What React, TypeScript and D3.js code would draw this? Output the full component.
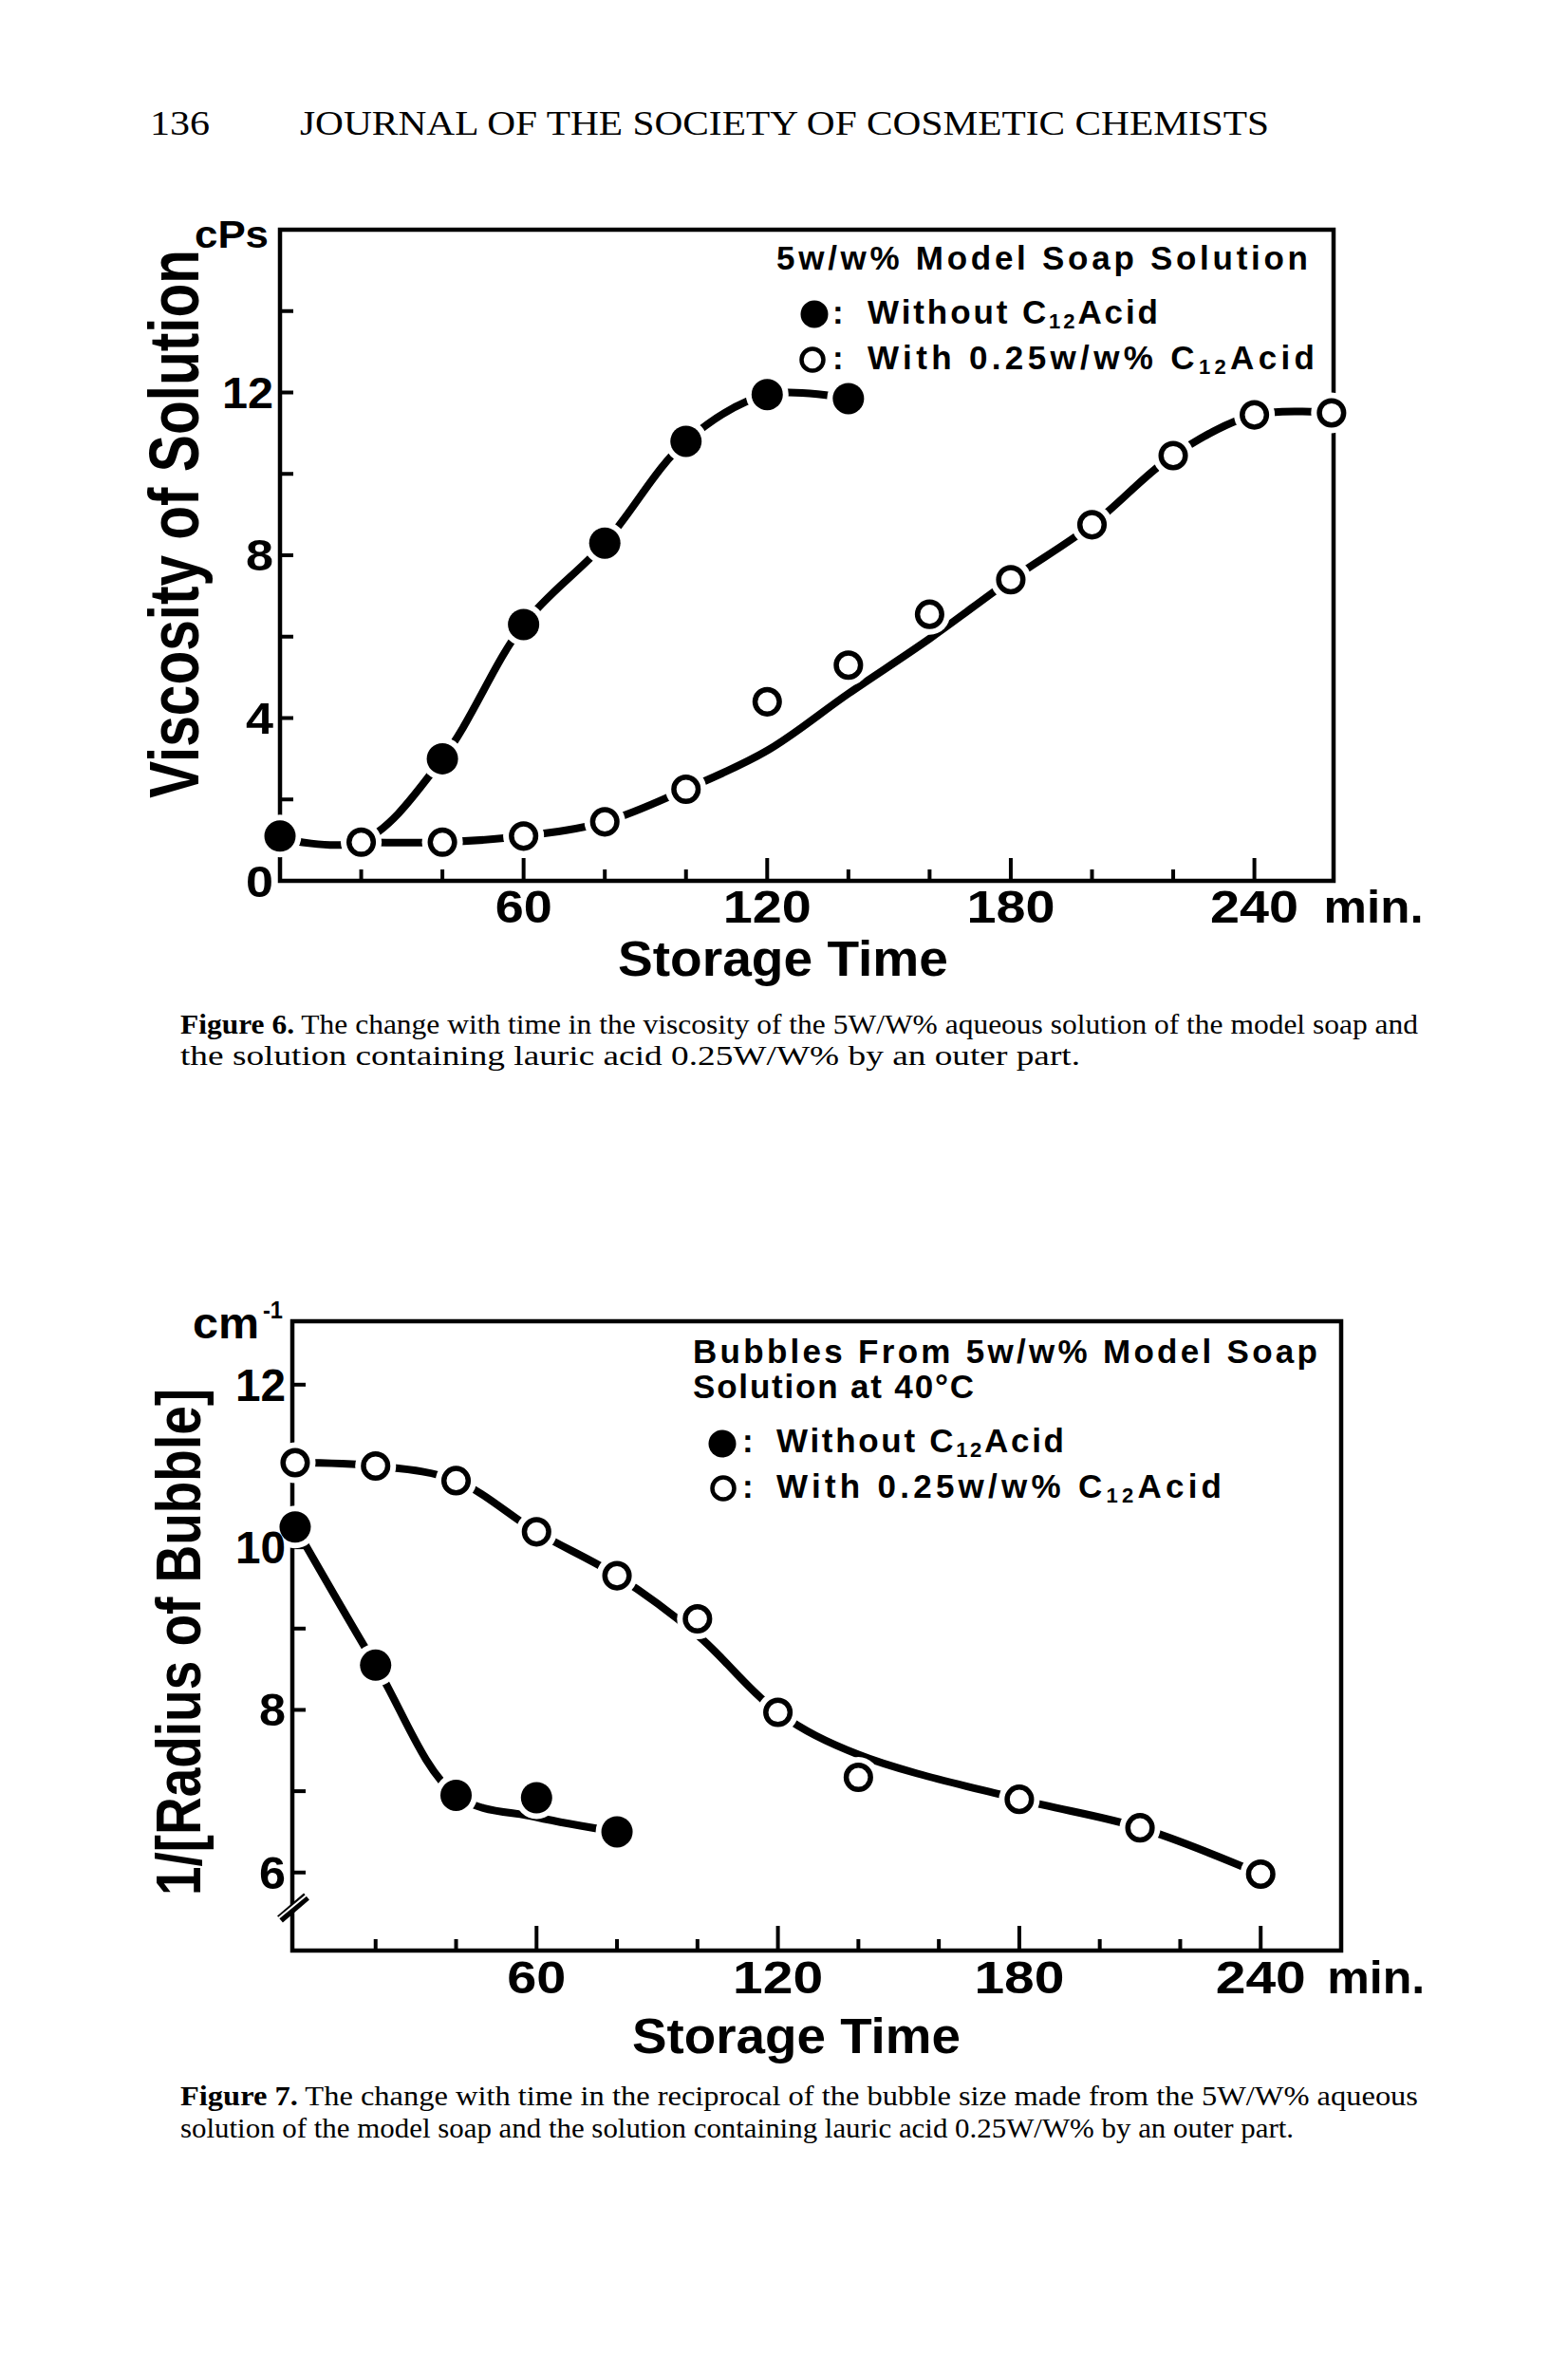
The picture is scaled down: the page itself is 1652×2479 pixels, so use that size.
import React from 'react';
import * as d3 from 'd3';

// ---------- Figure 6 data (Storage Time min, Viscosity cPs) ----------
const fig6FilledTime = [0, 40, 60, 80, 100, 120, 140];
const fig6FilledVisc = [1.1, 3.0, 6.3, 8.3, 10.8, 11.95, 11.85];
const fig6FilledFitTime = [0, 20, 40, 60, 80, 100, 120, 140];
const fig6FilledFitVisc = [1.05, 0.97, 3.0, 6.3, 8.3, 10.8, 11.95, 11.85];

const fig6OpenTime = [20, 40, 60, 80, 100, 120, 140, 160, 180, 200, 220, 240, 259];
const fig6OpenVisc = [0.95, 0.95, 1.1, 1.45, 2.25, 4.4, 5.3, 6.55, 7.4, 8.75, 10.45, 11.45, 11.5];
const fig6OpenFitTime = [20, 40, 60, 80, 100, 120, 140, 160, 180, 200, 220, 240, 259];
const fig6OpenFitVisc = [0.95, 0.95, 1.1, 1.45, 2.25, 3.2, 4.6, 5.95, 7.4, 8.75, 10.45, 11.45, 11.5];

const fig6YTicks = [2, 4, 6, 8, 10, 12, 14];
const fig6YLabels = [0, 4, 8, 12];

// ---------- Figure 7 data (Storage Time min, 1/Radius cm^-1) ----------
const fig7FilledTime = [0, 20, 40, 60, 80];
const fig7FilledRecip = [10.25, 8.55, 6.95, 6.92, 6.5];
const fig7FilledFitTime = [0, 20, 40, 60, 80];
const fig7FilledFitRecip = [10.25, 8.55, 6.95, 6.68, 6.5];

const fig7OpenTime = [0, 20, 40, 60, 80, 100, 120, 140, 180, 210, 240];
const fig7OpenRecip = [11.04, 11.0, 10.82, 10.19, 9.65, 9.12, 7.97, 7.17, 6.9, 6.55, 5.98];
const fig7OpenFitTime = [0, 20, 40, 60, 80, 100, 120, 140, 180, 210, 240];
const fig7OpenFitRecip = [11.04, 11.0, 10.82, 10.19, 9.65, 8.92, 7.97, 7.45, 6.9, 6.55, 5.98];

const fig7YTicks = [6, 7, 8, 9, 10, 11, 12];
const fig7YLabels = [6, 8, 10, 12];

const xMinorTicks = [20, 40, 80, 100, 140, 160, 200, 220];
const xMajorTicks = [60, 120, 180, 240];

const SANS = "'Liberation Sans', Arial, Helvetica, sans-serif";
const SERIF = "'Liberation Serif', 'DejaVu Serif', serif";

type TP = {
  x: number; y: number; size: number; len?: number; anchor?: string; adjust?: string;
  weight?: string | number; family?: string; rotate?: number; children: React.ReactNode;
};
const T = ({ x, y, size, len, anchor = 'start', adjust = 'spacingAndGlyphs', weight = 'bold', family = SANS, rotate, children }: TP) => (
  <text
    x={x}
    y={y}
    fontSize={size}
    fontFamily={family}
    fontWeight={weight}
    textAnchor={anchor}
    textLength={len}
    lengthAdjust={len ? adjust : undefined}
    transform={rotate !== undefined ? `rotate(${rotate},${x},${y})` : undefined}
    fill="#000"
  >
    {children}
  </text>
);

const zip = (a: number[], b: number[]) => a.map((v, i) => [v, b[i]] as [number, number]);

type Series = {
  pts: [number, number][];
  fit: [number, number][];
  filled: boolean;
};

const R_FILLED = 16.5;
const R_OPEN = 12.8;
const OPEN_SW = 5.5;

function Plot({
  x, y, series, left, right, top, bottom, yTicks, majorLen, minorLen,
}: {
  x: d3.ScaleLinear<number, number>; y: d3.ScaleLinear<number, number>; series: Series[];
  left: number; right: number; top: number; bottom: number; yTicks: number[];
  majorLen: number; minorLen: number;
}) {
  const line = d3.line<[number, number]>()
    .x(d => x(d[0]))
    .y(d => y(d[1]))
    .curve(d3.curveCatmullRom.alpha(0.5));
  return (
    <g>
      <rect x={left} y={top} width={right - left} height={bottom - top} fill="none" stroke="#000" strokeWidth={4.5} />
      {yTicks.map(t => (
        <line key={'yt' + t} x1={left} x2={left + 14} y1={y(t)} y2={y(t)} stroke="#000" strokeWidth={4} />
      ))}
      {xMinorTicks.map(t => (
        <line key={'xm' + t} x1={x(t)} x2={x(t)} y1={bottom} y2={bottom - minorLen} stroke="#000" strokeWidth={4} />
      ))}
      {xMajorTicks.map(t => (
        <line key={'xM' + t} x1={x(t)} x2={x(t)} y1={bottom} y2={bottom - majorLen} stroke="#000" strokeWidth={4} />
      ))}
      {series.map((s, i) => (
        <path key={'c' + i} d={line(s.fit) || ''} fill="none" stroke="#000" strokeWidth={8} strokeLinecap="round" />
      ))}
      {series.map((s, i) =>
        s.pts.map((p, j) => (
          <circle key={'h' + i + '-' + j} cx={x(p[0])} cy={y(p[1])}
            r={(s.filled ? R_FILLED : R_OPEN + OPEN_SW / 2) + 6} fill="#fff" />
        ))
      )}
      {series.map((s, i) =>
        s.pts.map((p, j) => (
          <circle
            key={'m' + i + '-' + j}
            cx={x(p[0])}
            cy={y(p[1])}
            r={s.filled ? R_FILLED : R_OPEN}
            fill={s.filled ? '#000' : '#fff'}
            stroke="#000"
            strokeWidth={s.filled ? 0 : OPEN_SW}
          />
        ))
      )}
    </g>
  );
}

const Acid = ({ x, y, len, prefix }: { x: number; y: number; len: number; prefix: string }) => (
  <text x={x} y={y} fontSize={35} fontFamily={SANS} fontWeight="bold" textLength={len} lengthAdjust="spacing">
    {prefix}C<tspan fontSize={22} dy={5}>12</tspan><tspan dy={-5}>Acid</tspan>
  </text>
);

export default function App() {
  const f6 = { left: 295, right: 1405, top: 242, bottom: 928 };
  const x6 = d3.scaleLinear().domain([0, 259.5]).range([f6.left, f6.right]);
  const y6 = d3.scaleLinear().domain([0, 16]).range([f6.bottom, f6.top]);

  const f7 = { left: 308, right: 1413, top: 1392, bottom: 2055 };
  const x7 = d3.scaleLinear().domain([-0.7, 260]).range([f7.left, f7.right]);
  const y7 = d3.scaleLinear().domain([5.04, 12.78]).range([f7.bottom, f7.top]);

  const s6: Series[] = [
    { pts: zip(fig6FilledTime, fig6FilledVisc), fit: zip(fig6FilledFitTime, fig6FilledFitVisc), filled: true },
    { pts: zip(fig6OpenTime, fig6OpenVisc), fit: zip(fig6OpenFitTime, fig6OpenFitVisc), filled: false },
  ];
  const s7: Series[] = [
    { pts: zip(fig7FilledTime, fig7FilledRecip), fit: zip(fig7FilledFitTime, fig7FilledFitRecip), filled: true },
    { pts: zip(fig7OpenTime, fig7OpenRecip), fit: zip(fig7OpenFitTime, fig7OpenFitRecip), filled: false },
  ];

  return (
    <svg
      width={1652}
      height={2479}
      viewBox="0 0 1652 2479"
      style={{ position: 'absolute', left: 0, top: 0, background: '#fff' }}
    >
      <rect x={0} y={0} width={1652} height={2479} fill="#fff" />

      {/* page header */}
      <T x={158} y={142} size={36} len={63} weight="normal" family={SERIF}>136</T>
      <T x={316} y={142} size={36} len={1021} weight="normal" family={SERIF}>JOURNAL OF THE SOCIETY OF COSMETIC CHEMISTS</T>

      {/* ================= Figure 6 ================= */}
      <Plot x={x6} y={y6} series={s6} {...f6} yTicks={fig6YTicks} majorLen={24} minorLen={12} />
      <T x={205} y={261} size={41} len={78}>cPs</T>
      {fig6YLabels.map(v => (
        <T key={'y6' + v} x={f6.left - 7} y={v === 0 ? 945 : y6(v) + 16} size={46} len={v >= 10 ? 54 : 29} anchor="end">
          {String(v)}
        </T>
      ))}
      {xMajorTicks.map(v => (
        <T key={'x6' + v} x={x6(v)} y={972} size={48} len={v >= 100 ? 93 : 60} anchor="middle">{String(v)}</T>
      ))}
      <T x={x6(240) + 73} y={972} size={48} len={105}>min.</T>
      <T x={825} y={1028} size={51} len={348} anchor="middle">Storage Time</T>
      <T x={209} y={552} size={75} len={578} anchor="middle" rotate={-90}>Viscosity of Solution</T>

      {/* legend fig 6 */}
      <T x={818} y={284} size={35} len={560} adjust="spacing">5w/w% Model Soap Solution</T>
      <circle cx={858} cy={331} r={14.5} fill="#000" />
      <T x={877} y={341} size={35}>:</T>
      <Acid x={914} y={341} len={306} prefix="Without " />
      <circle cx={856} cy={379} r={11.5} fill="#fff" stroke="#000" strokeWidth={4.5} />
      <T x={877} y={389} size={35}>:</T>
      <Acid x={914} y={389} len={471} prefix="With 0.25w/w% " />

      {/* caption fig 6 */}
      <text x={190} y={1089} fontSize={30} fontFamily={SERIF} textLength={1304} lengthAdjust="spacingAndGlyphs">
        <tspan fontWeight="bold">Figure 6.</tspan> The change with time in the viscosity of the 5W/W% aqueous solution of the model soap and
      </text>
      <T x={190} y={1122} size={30} len={948} weight="normal" family={SERIF}>
        the solution containing lauric acid 0.25W/W% by an outer part.
      </T>

      {/* ================= Figure 7 ================= */}
      <Plot x={x7} y={y7} series={s7} {...f7} yTicks={fig7YTicks} majorLen={26} minorLen={12} />
      <line x1={295} y1={2022} x2={323} y2={1998} stroke="#000" strokeWidth={9} />
      <line x1={292} y1={2022} x2={326} y2={1994} stroke="#fff" strokeWidth={2} />
      <T x={203} y={1410} size={46} len={70}>cm</T>
      <T x={277} y={1389} size={26} len={21}>-1</T>
      {fig7YLabels.map(v => (
        <T key={'y7' + v} x={f7.left - 7} y={y7(v) + 17} size={48} len={v >= 10 ? 53 : 28} anchor="end">
          {String(v)}
        </T>
      ))}
      {xMajorTicks.map(v => (
        <T key={'x7' + v} x={x7(v)} y={2100} size={48} len={v >= 100 ? 95 : 62} anchor="middle">{String(v)}</T>
      ))}
      <T x={x7(240) + 70} y={2100} size={48} len={103}>min.</T>
      <T x={839} y={2163} size={51} len={346} anchor="middle">Storage Time</T>
      <T x={211} y={1730} size={66} len={534} anchor="middle" rotate={-90}>1/[Radius of Bubble]</T>

      {/* legend fig 7 */}
      <T x={730} y={1436} size={35} len={658} adjust="spacing">Bubbles From 5w/w% Model Soap</T>
      <T x={730} y={1473} size={35} len={296} adjust="spacing">Solution at 40°C</T>
      <circle cx={761} cy={1521} r={14.5} fill="#000" />
      <T x={782} y={1530} size={35}>:</T>
      <Acid x={818} y={1530} len={303} prefix="Without " />
      <circle cx={762} cy={1568} r={11.5} fill="#fff" stroke="#000" strokeWidth={4.5} />
      <T x={782} y={1578} size={35}>:</T>
      <Acid x={818} y={1578} len={469} prefix="With 0.25w/w% " />

      {/* caption fig 7 */}
      <text x={190} y={2218} fontSize={30} fontFamily={SERIF} textLength={1304} lengthAdjust="spacingAndGlyphs">
        <tspan fontWeight="bold">Figure 7.</tspan> The change with time in the reciprocal of the bubble size made from the 5W/W% aqueous
      </text>
      <T x={190} y={2252} size={30} len={1173} weight="normal" family={SERIF}>
        solution of the model soap and the solution containing lauric acid 0.25W/W% by an outer part.
      </T>
    </svg>
  );
}
